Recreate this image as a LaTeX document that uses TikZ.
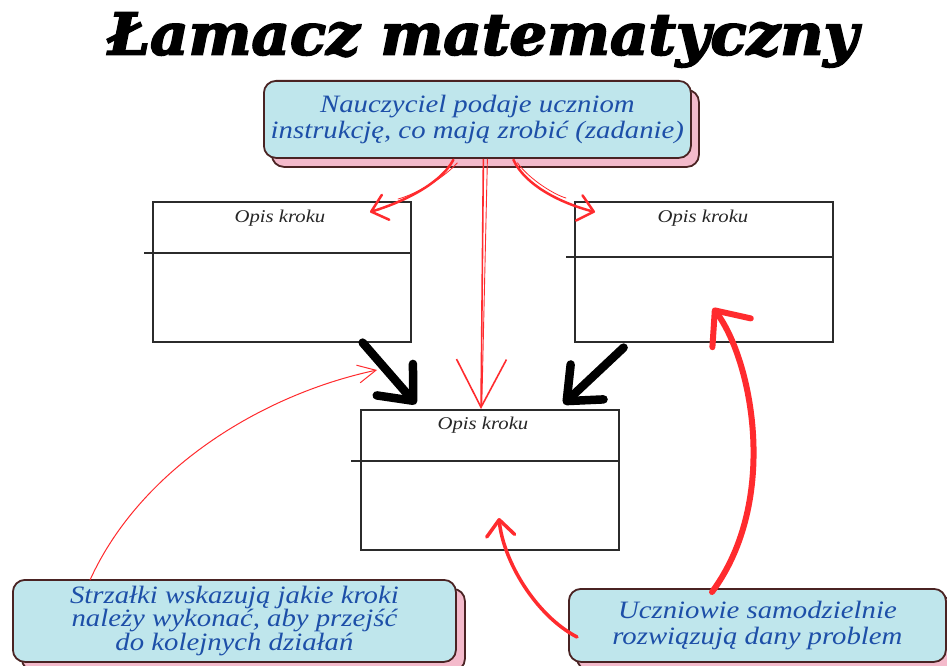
\documentclass[tikz,border=0pt]{standalone}
\usepackage{fontspec}
\usepackage{graphicx}
\usetikzlibrary{arrows.meta,calc}
\newfontfamily\titlefont{DejaVu Serif}[BoldItalicFeatures={FakeBold=3}]
\newfontfamily\notefont{Liberation Serif}[FakeStretch=1.15]
\definecolor{notefill}{HTML}{BFE6EC}
\definecolor{noteshade}{HTML}{F4BACB}
\definecolor{noteedge}{HTML}{4A2323}
\definecolor{notetext}{HTML}{1D4FA8}
\definecolor{markred}{HTML}{FF2B2E}
\definecolor{stepedge}{HTML}{2B2B2B}
\begin{document}
\begin{tikzpicture}[x=1pt,y=-1pt,
  note/.style={draw=noteedge, line width=1.8pt, fill=notefill, rounded corners=12pt,
    anchor=north west, inner sep=0pt, text=notetext, align=center},
  noteshadow/.style={draw=noteedge, line width=1.8pt, fill=noteshade, rounded corners=12pt,
    anchor=north west, inner sep=0pt},
  stepbox/.style={draw=stepedge, line width=1.6pt, anchor=north west, inner sep=0pt,
    minimum width=258pt, minimum height=140pt},
  steplabel/.style={font=\notefont\itshape\fontsize{18}{20}\selectfont, text=black!85},
  divider/.style={draw=stepedge, line width=1.6pt},
  sketch/.style={draw=markred, line width=2.5pt, line cap=round,
    -{Straight Barb[length=15pt,width=26pt,round]}},
  sketchline/.style={draw=markred, line width=0.8pt, line cap=round},
  bigblack/.style={draw=black, line width=8.5pt, line cap=round,
    -{Straight Barb[length=28pt,width=48pt,round]}},
]
\clip (0,0) rectangle (947,666);
\fill[white] (0,0) rectangle (947,666);

% title
\node (title) at (483,40)
  {\resizebox{750pt}{42pt}{\titlefont\bfseries\itshape Łamacz matematyczny}};

% teacher note
\node[noteshadow, minimum width=427pt, minimum height=77pt] (topshadow) at (271,89) {};
\node[note, minimum width=427pt, minimum height=77pt,
  font=\notefont\itshape\fontsize{25}{26}\selectfont] (topbox) at (263,80)
  {Nauczyciel podaje uczniom\\instrukcję, co mają zrobić (zadanie)};

% step boxes
\node[stepbox] (stepL) at (152,201) {};
\node[steplabel] (stepLtext) at (280,218) {Opis kroku};
\draw[divider] ($(stepL.north west)+(-8,52)$) -- ($(stepL.north east)+(0,52)$);

\node[stepbox] (stepR) at (574,201) {};
\node[steplabel] (stepRtext) at (703,218) {Opis kroku};
\draw[divider, line width=2.6pt] ($(stepR.north west)+(-8,56)$) -- ($(stepR.north east)+(0,56)$);

\node[stepbox] (stepM) at (360,409) {};
\node[steplabel] (stepMtext) at (483,425) {Opis kroku};
\draw[divider] ($(stepM.north west)+(-9,52)$) -- ($(stepM.north east)+(0,52)$);

% bottom notes
\node[noteshadow, minimum width=443pt, minimum height=82pt] (noteLshadow) at (21,588) {};
\node[note, minimum width=443pt, minimum height=82pt,
  font=\notefont\itshape\fontsize{25}{22}\selectfont] (noteL) at (12,579)
  {Strzałki wskazują jakie kroki\\należy wykonać, aby przejść\\do kolejnych działań};

\node[noteshadow, minimum width=377pt, minimum height=73pt] (noteRshadow) at (576,596) {};
\node[note, minimum width=377pt, minimum height=73pt,
  font=\notefont\itshape\fontsize{25}{26}\selectfont] (noteR) at (568,588)
  {Uczniowie samodzielnie\\rozwiązują dany problem};

% arrows from the teacher note
\coordinate (tipL) at (370,212);
\coordinate (tipR) at (595,212);
\draw[sketch] ($(topbox.south)+(-24,1)$) .. controls (440,185) and (400,203) .. (tipL);
\draw[sketchline] ($(topbox.south)+(-20,4)$) .. controls (440,182) and (410,196) .. (398,199);
\draw[sketch] ($(topbox.south)+(36,1)$) .. controls (525,185) and (560,203) .. (tipR);
\draw[sketchline] ($(topbox.south)+(40,4)$) .. controls (530,180) and (555,195) .. (566,198);

\draw[markred, line width=1.6pt, -{Straight Barb[length=48pt,width=50pt]}]
  ($(topbox.south)+(6,0)$) -- (stepM.north -| 481,0);
\draw[markred, line width=0.9pt] ($(topbox.south)+(10,0)$) -- ($(stepM.north)+(-8,-4)$);

% arrows between steps
\draw[bigblack] ($(stepL.south east)+(-49,0)$) -- ($(stepM.north west)+(56,-5)$);
\draw[bigblack] ($(stepR.south east)+(-210,5)$) -- ($(stepM.north east)+(-56,-5)$);

% annotation arrows
\coordinate (thinTip) at (377,370);
\draw[markred, line width=1pt, -{Straight Barb[length=18pt,width=18pt]}]
  ($(noteL.north west)+(78,1)$) .. controls (140,470) and (260,395) .. (thinTip);

\coordinate (bigTip) at (713,308);
\draw[markred, line width=6pt, line cap=round, -{Straight Barb[length=28pt,width=48pt,round]}]
  ($(noteR.north west)+(144,4)$) .. controls (780,500) and (752,360) .. (bigTip);

\coordinate (midTip) at (499,518);
\draw[markred, line width=3.5pt, line cap=round, -{Straight Barb[length=16pt,width=28pt,round]}]
  ($(noteR.north west)+(9,49)$) .. controls (535,615) and (503,560) .. (midTip);
\end{tikzpicture}
\end{document}
